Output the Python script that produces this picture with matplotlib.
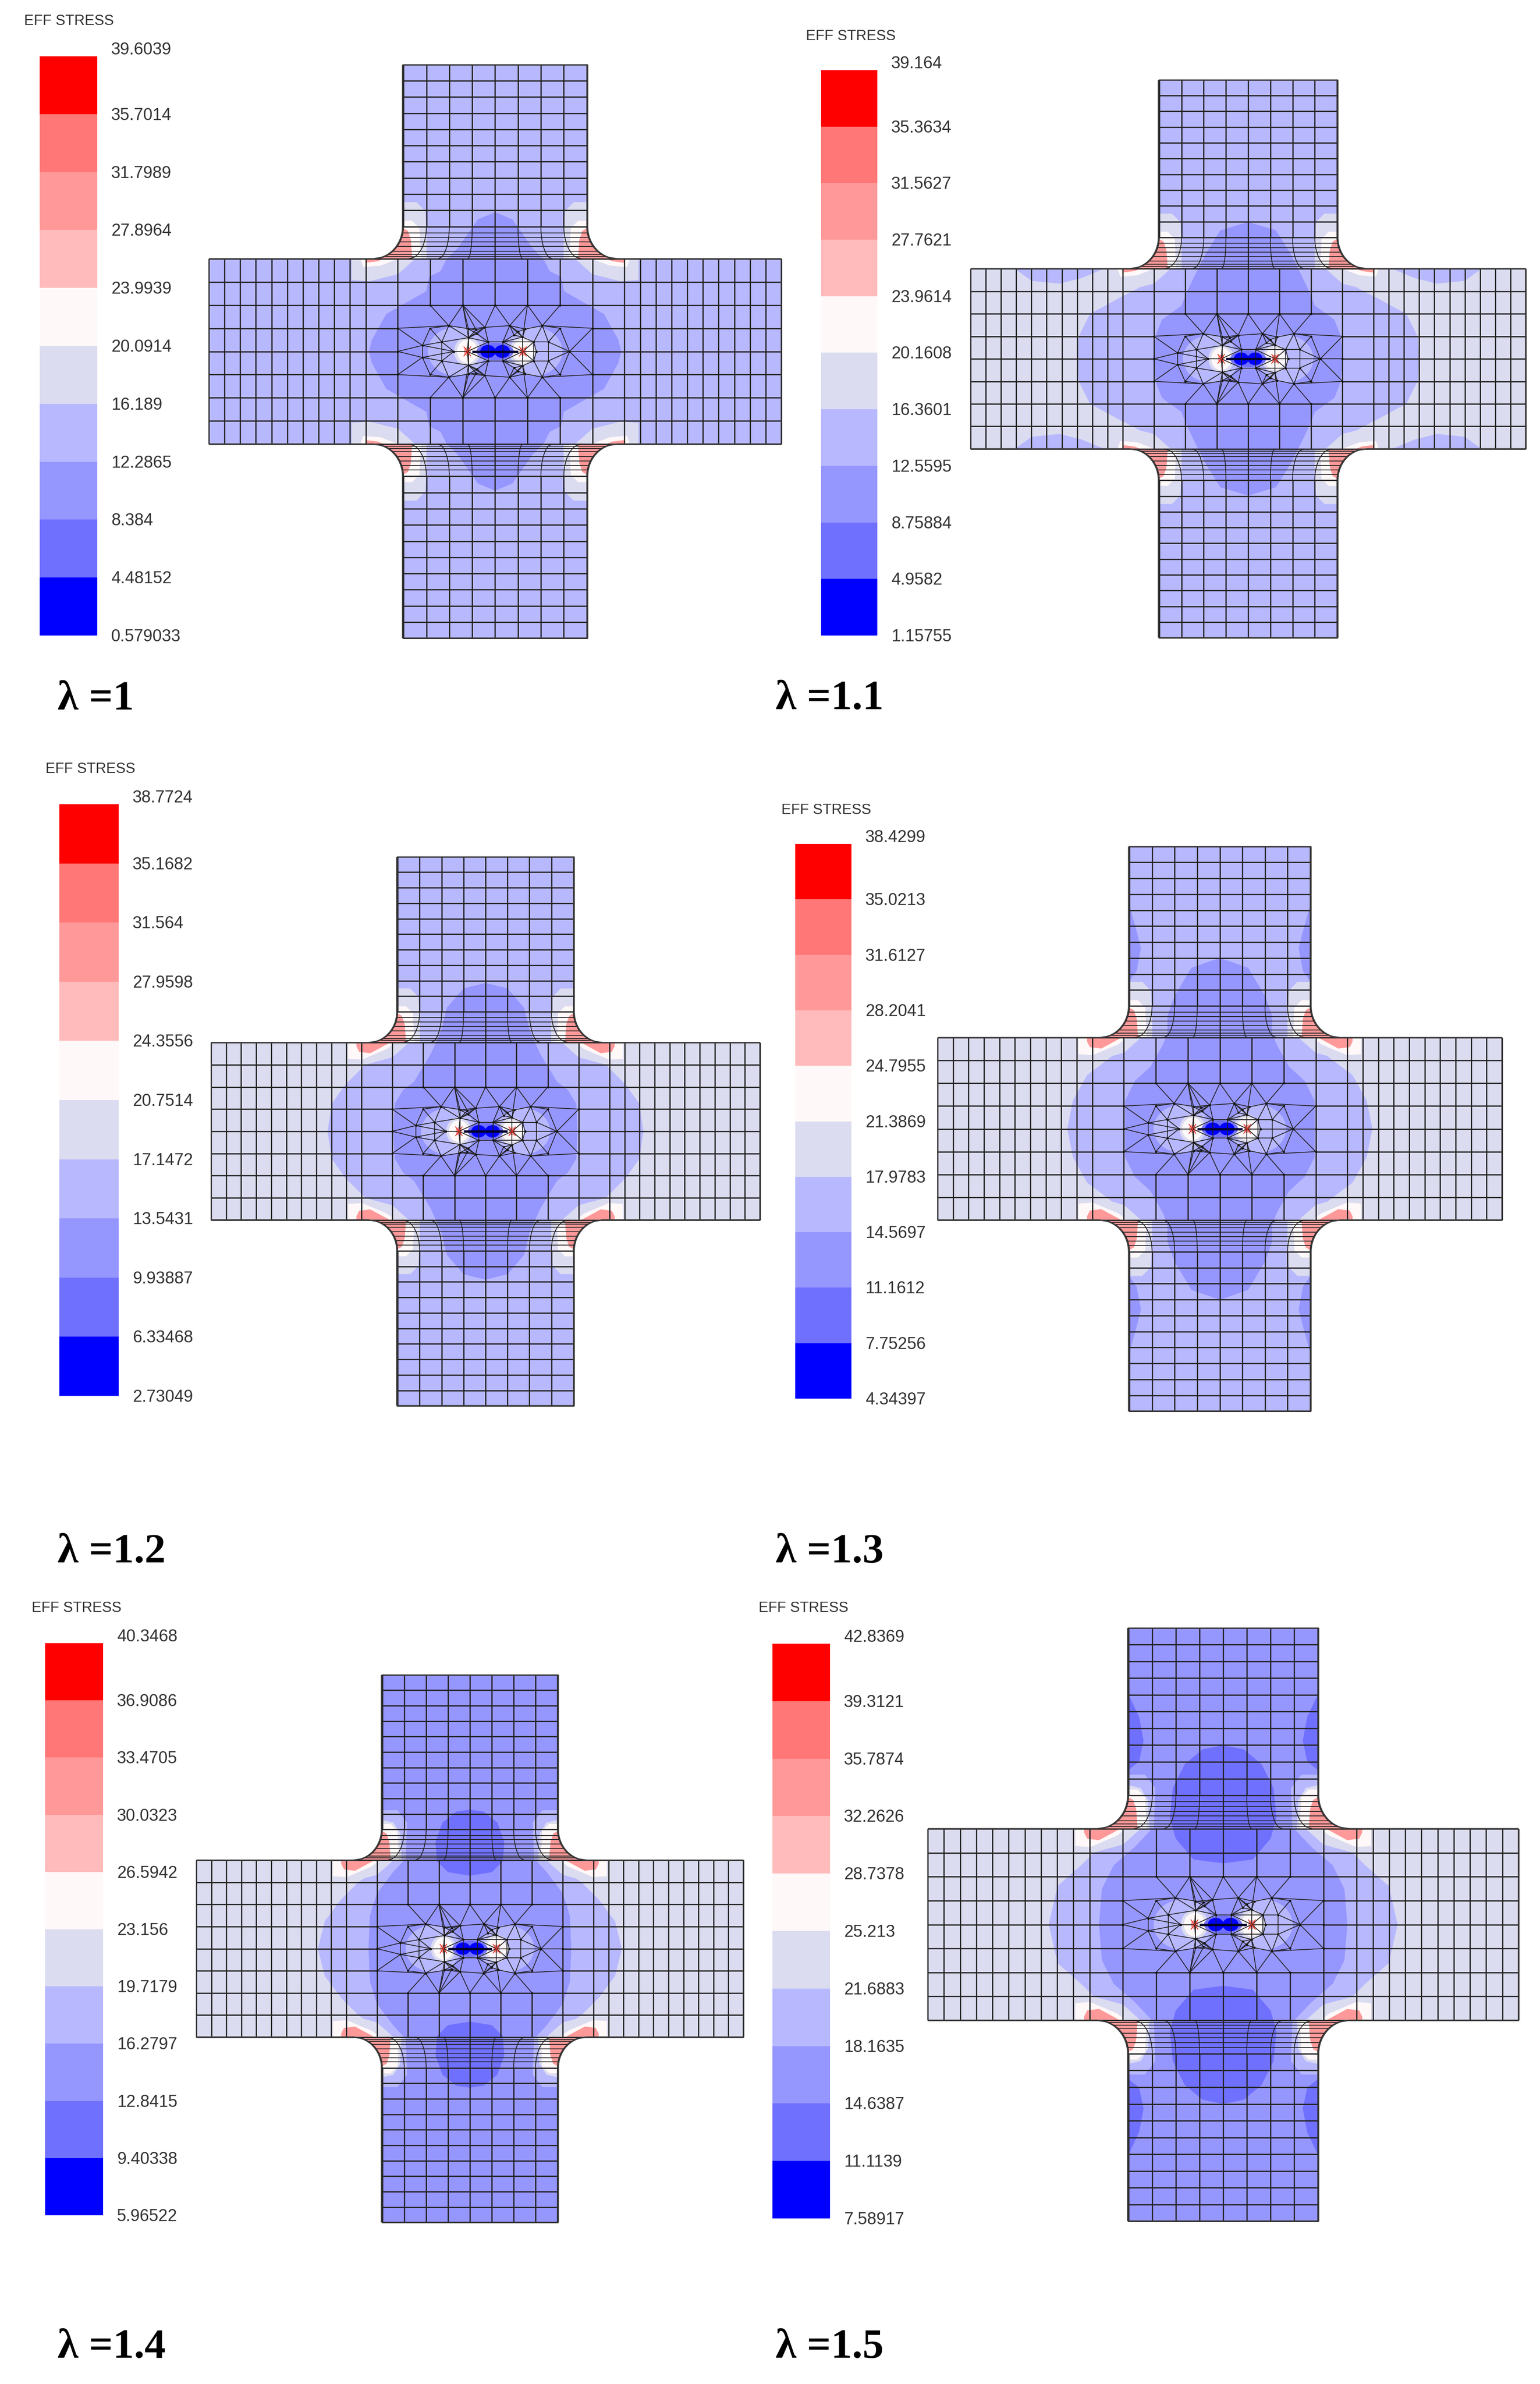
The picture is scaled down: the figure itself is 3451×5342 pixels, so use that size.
import numpy as np
import matplotlib
matplotlib.use("Agg")
import matplotlib.pyplot as plt
from matplotlib.patches import Polygon, Ellipse

W, H = 3451, 5342
DPI = 100
NARROW = ['Liberation Sans', 'DejaVu Sans']
SERIF = ['Liberation Serif', 'DejaVu Serif']

# colour scale, lowest band first
band_colors = ['#0000ff', '#7070ff', '#9696ff', '#b8b8ff', '#dcdcf0',
               '#fff8f8', '#ffbbbb', '#ff9999', '#ff7777', '#ff0000']

# legend values, top to bottom
values_1 = [39.6039, 35.7014, 31.7989, 27.8964, 23.9939, 20.0914, 16.189, 12.2865, 8.384, 4.48152, 0.579033]
values_2 = [39.164, 35.3634, 31.5627, 27.7621, 23.9614, 20.1608, 16.3601, 12.5595, 8.75884, 4.9582, 1.15755]
values_3 = [38.7724, 35.1682, 31.564, 27.9598, 24.3556, 20.7514, 17.1472, 13.5431, 9.93887, 6.33468, 2.73049]
values_4 = [38.4299, 35.0213, 31.6127, 28.2041, 24.7955, 21.3869, 17.9783, 14.5697, 11.1612, 7.75256, 4.34397]
values_5 = [40.3468, 36.9086, 33.4705, 30.0323, 26.5942, 23.156, 19.7179, 16.2797, 12.8415, 9.40338, 5.96522]
values_6 = [42.8369, 39.3121, 35.7874, 32.2626, 28.7378, 25.213, 21.6883, 18.1635, 14.6387, 11.1139, 7.58917]
panel_labels = ['λ =1', 'λ =1.1', 'λ =1.2', 'λ =1.3', 'λ =1.4', 'λ =1.5']

# base band index of the horizontal and the vertical arm of each specimen
hor_level = [3, 4, 4, 4, 4, 4]
ver_level = [3, 3, 3, 3, 2, 2]

# contour outlines (one quadrant, normalised specimen coordinates)
regions_1 = [(2, [(.44, 0), (.43, .04), (.38, .13), (.24, .21), (.23, .26), (.19, .28), (.17, .32), (.13, .36), (.06, .46), (0, .485), (0, 0)])]
regions_2 = [(3, [(.615, 0), (.61, .08), (.57, .16), (.46, .22), (.40, .25), (.33, .30), (.28, .323), (0, .323), (0, 0)]),
             (3, [(.52, .323), (.6, .29), (.68, .27), (.78, .28), (.84, .323)]),
             (2, [(.343, 0), (.33, .09), (.31, .14), (.24, .19), (.22, .24), (.18, .323), (.15, .38), (.10, .46), (0, .49), (0, 0)])]
regions_3 = [(3, [(.575, 0), (.56, .1), (.51, .17), (.44, .24), (.36, .29), (.29, .323), (0, .323), (0, 0)]),
             (2, [(.335, 0), (.33, .10), (.30, .15), (.26, .18), (.2, .28), (.18, .323), (.16, .37), (.14, .45), (.08, .52), (0, .54), (0, 0)])]
regions_4 = [(2, [(.323, .80), (.295, .70), (.28, .64), (.295, .56), (.323, .52)]),
             (3, [(.54, 0), (.52, .1), (.47, .19), (.39, .25), (.32, .31), (.28, .323), (0, .323), (0, 0)]),
             (2, [(.335, 0), (.335, .1), (.3, .17), (.245, .22), (.2, .3), (.185, .34), (.185, .40), (.16, .47), (.1, .57), (0, .605), (0, 0)])]
regions_5 = [(3, [(.555, 0), (.53, .1), (.47, .18), (.41, .24), (.34, .29), (.31, .323), (0, .323), (0, 0)]),
             (2, [(.37, 0), (.365, .12), (.34, .2), (.28, .28), (.24, .323), (0, .323), (0, 0)]),
             (1, [(0, .267), (.08, .28), (.12, .32), (.125, .39), (.10, .46), (.05, .5), (0, .507)])]
regions_6 = [(1, [(.323, .78), (.285, .70), (.27, .62), (.285, .55), (.323, .52)]),
             (3, [(.59, 0), (.56, .13), (.48, .2), (.44, .24), (.38, .27), (.33, .323), (0, .323), (0, 0)]),
             (2, [(.42, 0), (.41, .12), (.37, .2), (.3, .26), (.24, .323), (0, .323), (0, 0)]),
             (1, [(0, .207), (.1, .22), (.16, .29), (.18, .36), (.17, .46), (.13, .54), (.07, .59), (0, .604)])]

corner_hor_small = [(4, [(.5, .323), (.5, .25), (.44, .245), (.34, .27), (.28, .323)]),
                    (5, [(.47, .323), (.46, .295), (.40, .3), (.34, .323)]),
                    (7, [(.455, .323), (.45, .31), (.41, .315), (.39, .323)])]
corner_hor_large = [(4, [(.52, .323), (.52, .25), (.45, .24), (.34, .27), (.28, .323)]),
                    (5, [(.5, .323), (.5, .265), (.45, .262), (.36, .3), (.33, .323)]),
                    (7, [(.47, .323), (.47, .31), (.46, .29), (.42, .285), (.35, .323)])]
corner_ver_light = [(4, [(.323, .52), (.275, .52), (.245, .49), (.24, .40), (.24, .323), (.45, .323)])]
corner_ver_mid = [(3, [(.323, .505), (.265, .505), (.23, .46), (.235, .323), (.45, .323)]),
                  (4, [(.323, .47), (.28, .46), (.255, .42), (.25, .323), (.45, .323)])]
corner_ver_hot = [(5, [(.323, .455), (.29, .455), (.265, .43), (.26, .323), (.45, .323)]),
                  (7, [(.323, .43), (.305, .42), (.295, .39), (.29, .323), (.45, .323)])]

# pixel layout
cross_box = [(468, 1751, 145, 1430), (2175, 3419, 179, 1429), (473, 1703, 1920, 3150),
             (2101, 3366, 1897, 3162), (440, 1666, 3753, 4980), (2079, 3403, 3648, 4977)]
bar_box = [(89, 218, 126, 1424), (1840, 1966, 157, 1424), (133, 266, 1802, 3128),
           (1782, 1908, 1891, 3134), (101, 231, 3682, 4964), (1731, 1860, 3683, 4971)]
title_xy = [(54, 47), (1806, 81), (102, 1723), (1751, 1815), (71, 3604), (1700, 3604)]
lambda_xy = [(129, 1567), (1738, 1567), (129, 3478), (1738, 3478), (129, 5260), (1738, 5260)]

# mesh
ARM = .323
hor_end_cols = [.452, .5068, .5616, .6164, .6712, .726, .7808, .8356, .8904, .9452, 1.0]
hor_rows = [0, .0808, .1615, .242, .323]
ver_rows = [.4355, .492, .5485, .605, .6615, .718, .7745, .831, .8875, .944, 1.0]
fillet_rows = [.008, .016, .027, .043, .059, .075, .091]
ver_cols = [.08, .16, .24, .32]
flare = [.61, .78, .8, 1.0]
FX, FY = .104, .1125

nodes = {0: (0, .1615), 1: (-.113, .1615), 2: (.113, .1615), 3: (-.227, .1615), 4: (.227, .1615),
         5: (-.162, .09), 6: (-.036, .084), 7: (.051, .09), 8: (.165, .09),
         9: (-.227, .0808), 10: (.227, .0808), 11: (-.34, .0808), 12: (.34, .0808),
         13: (-.254, .021), 14: (-.186, .033), 15: (-.34, 0), 16: (.26, 0),
         17: (-.144, 0), 18: (.144, 0), 19: (.186, .033), 20: (.135, .033),
         21: (-.093, .048), 22: (.096, .05), 23: (-.024, .033), 24: (.027, .033),
         25: (-.097, 0), 26: (.097, 0), 27: (-.066, .075), 29: (.105, .078), 30: (.34, 0),
         31: (-.093, .078), 32: (-.063, .062), 33: (.066, .057), 34: (.08, .069)}
edges = [(3, 5), (5, 1), (1, 6), (6, 0), (0, 7), (7, 2), (2, 8), (8, 4), (1, 21), (2, 22), (9, 5), (5, 27), (27, 6),
         (6, 7), (7, 29), (29, 8), (8, 10), (11, 13), (15, 13), (13, 14), (14, 21), (14, 17), (9, 14), (9, 13), (5, 14),
         (13, 17), (17, 25), (11, 5), (12, 16), (10, 16), (16, 19), (16, 18), (19, 10), (19, 8), (18, 26), (20, 22),
         (20, 26), (20, 18), (19, 20), (22, 29), (25, 21), (25, 23), (26, 24), (21, 23), (23, 24), (22, 24), (6, 21),
         (6, 23), (7, 24), (7, 22), (21, 27), (27, 1), (8, 20), (16, 30), (12, 8), (21, 5),
         (31, 21), (31, 1), (31, 6), (32, 21), (32, 6), (32, 31), (33, 34), (34, 29), (34, 22), (33, 22), (33, 7),
         (33, 24), (34, 7), (32, 23), (24, 20)]
vert_links = [13, 14, 19, 20, 21, 22, 23, 24, 25, 26]


def px_fig(x, y):
    return x / W, 1 - y / H


def edge_x(y):
    t = np.clip((ARM + FY - y) / FY, 0, 1)
    return ARM + FX - FX * np.sqrt(1 - t ** 2)


def cross_path():
    ys = np.linspace(ARM + FY, ARM, 30)
    xs = edge_x(ys)
    q = np.array([(ARM, 1.0)] + list(zip(xs, ys)) + [(1.0, ARM)])
    return np.vstack([q, (q * [1, -1])[::-1], q * [-1, -1], (q * [-1, 1])[::-1]])


def mirrored(ax, pts, level, clip):
    for sx in (1, -1):
        for sy in (1, -1):
            p = Polygon(np.array(pts) * [sx, sy], closed=True, facecolor=band_colors[level],
                        edgecolor=band_colors[level], lw=.5, zorder=2)
            ax.add_patch(p)
            p.set_clip_path(clip)


def draw_field(ax, i, regions, corners):
    outline = cross_path()
    clip = Polygon(outline, closed=True, transform=ax.transData)
    ax.add_patch(Polygon(outline, closed=True, facecolor=band_colors[ver_level[i]], edgecolor='none', zorder=1))
    ax.fill_between([-1, 1], -ARM, ARM, color=band_colors[hor_level[i]], lw=0, zorder=1.1)
    for level, pts in regions:
        mirrored(ax, pts, level, clip)
    for level, pts in corners:
        mirrored(ax, pts, level, clip)
    for sx in (1, -1):
        ax.add_patch(Ellipse((sx * .135, 0), .2, .17, fc=band_colors[3], ec='none', zorder=3))
        tip = sx * .097
        ax.add_patch(Ellipse((tip, 0), .092, .1, fc=band_colors[4], ec='none', zorder=3.1))
        ax.add_patch(Ellipse((tip, 0), .072, .08, fc=band_colors[5], ec='none', zorder=3.2))
        ax.add_patch(Ellipse((tip, 0), .024, .03, fc=band_colors[7], ec='none', zorder=3.3))
    ax.add_patch(Ellipse((0, 0), .13, .06, fc=band_colors[1], ec='none', zorder=3.4))
    for sx in (1, -1):
        ax.add_patch(Ellipse((sx * .025, 0), .054, .045, fc=band_colors[0], ec='none', zorder=3.5))


def draw_mesh(ax):
    kw = dict(color='#222222', lw=2.0, zorder=5, solid_capstyle='butt')
    thin = dict(color='#222222', lw=1.3, zorder=5)
    for y in hor_rows[2:]:
        for s in (1, -1):
            ax.plot([-1, 1], [s * y, s * y], **kw)
    for s in (1, -1):
        ax.plot([-1, -.34], [s * hor_rows[1]] * 2, **kw)
        ax.plot([.34, 1], [s * hor_rows[1]] * 2, **kw)
    ax.plot([-1, -.34], [0, 0], **kw)
    ax.plot([.34, 1], [0, 0], **kw)
    for s in (1, -1):
        for x in hor_end_cols:
            ax.plot([s * x, s * x], [-ARM, ARM], **kw)
        ax.plot([s * .34] * 2, [-ARM, ARM], **kw)
        for x in (.113, .227):
            for t in (1, -1):
                ax.plot([s * x] * 2, [t * .1615, t * ARM], **kw)
    for t in (1, -1):
        ax.plot([0, 0], [t * .1615, t * ARM], **kw)
    ys = np.linspace(ARM, ARM + FY, 20)
    for s in (1, -1):
        for y in ver_rows:
            ax.plot([-ARM, ARM], [s * y, s * y], **kw)
        for d in fillet_rows:
            y = ARM + d
            ex = float(edge_x(y))
            ax.plot([-ex, ex], [s * y, s * y], **thin)
        ax.plot([0, 0], [s * ARM, s * 1], **kw)
        for c, f in zip(ver_cols, flare):
            xs = c * (1 + (edge_x(ys) / ARM - 1) * f)
            for sx in (1, -1):
                ax.plot(sx * xs, s * ys, **thin)
                ax.plot([sx * c, sx * c], [s * (ARM + FY), s * 1], **kw)
    for a, b in edges:
        (x0, y0), (x1, y1) = nodes[a], nodes[b]
        for s in (1, -1):
            ax.plot([x0, x1], [s * y0, s * y1], **thin)
    for a in vert_links:
        x0, y0 = nodes[a]
        ax.plot([x0, x0], [-y0, y0], **thin)
    xs = [p[0] for p in nodes.values()]
    yy = [p[1] for p in nodes.values()]
    ax.plot(xs + xs, yy + [-v for v in yy], ls='none', marker='o', ms=2.4, color='#111', zorder=5.1)
    ax.plot([-.08, .08], [0, 0], color='#000030', lw=3.8, zorder=6, solid_capstyle='butt')
    for sx in (1, -1):
        tx = sx * .097
        ax.plot([tx - .012, tx + .012], [-.016, .016], color='#e03020', lw=1.3, zorder=6)
        ax.plot([tx - .012, tx + .012], [.016, -.016], color='#e03020', lw=1.3, zorder=6)
    ax.add_patch(Polygon(cross_path(), closed=True, fc='none', ec='#3a3a3a', lw=2.2, zorder=7))


def draw_bar(fig, box, vals):
    x0, x1, y0, y1 = box
    fx, fy = px_fig(x0, y1)
    ax = fig.add_axes([fx, fy, (x1 - x0) / W, (y1 - y0) / H])
    vals_low = vals[::-1]
    ax.bar(np.zeros(10), np.diff(vals_low), bottom=vals_low[:-1], width=1, color=band_colors, lw=0)
    ax.set_xlim(-.5, .5)
    ax.set_ylim(vals_low[0], vals_low[-1])
    ax.axis('off')
    for j, v in enumerate(vals):
        dy = 14 if j == 0 else -3
        ax.annotate(str(v), xy=(1, v), xycoords=('axes fraction', 'data'), xytext=(31, dy),
                    textcoords='offset pixels', ha='left', va='center', fontsize=27,
                    family=NARROW, color='#333333', annotation_clip=False)


fig = plt.figure(figsize=(W / DPI, H / DPI), dpi=DPI, facecolor='white')
all_values = [values_1, values_2, values_3, values_4, values_5, values_6]
all_regions = [regions_1, regions_2, regions_3, regions_4, regions_5, regions_6]
all_corners = [corner_hor_small + corner_ver_light + corner_ver_hot,
               corner_hor_small + corner_ver_light + corner_ver_hot,
               corner_hor_large + corner_ver_light + corner_ver_hot,
               corner_hor_large + corner_ver_light + corner_ver_hot,
               corner_hor_large + corner_ver_mid + corner_ver_hot,
               corner_hor_large + corner_ver_mid + corner_ver_hot]

for i in range(6):
    x0, x1, y0, y1 = cross_box[i]
    fx, fy = px_fig(x0, y1)
    ax = fig.add_axes([fx, fy, (x1 - x0) / W, (y1 - y0) / H])
    ax.set_xlim(-1, 1)
    ax.set_ylim(-1, 1)
    ax.axis('off')
    draw_field(ax, i, all_regions[i], all_corners[i])
    draw_mesh(ax)
    for ln in ax.lines:
        ln.set_clip_on(False)
    draw_bar(fig, bar_box[i], all_values[i])
    tx, ty = px_fig(*title_xy[i])
    fig.text(tx, ty, 'EFF STRESS', fontsize=23.5, family=NARROW, color='#333333', ha='left', va='center')
    lx, ly = px_fig(*lambda_xy[i])
    fig.text(lx, ly, panel_labels[i], fontsize=68, family=SERIF, weight='bold', color='black', ha='left', va='center')

fig.savefig('out.png', dpi=DPI, facecolor='white')
